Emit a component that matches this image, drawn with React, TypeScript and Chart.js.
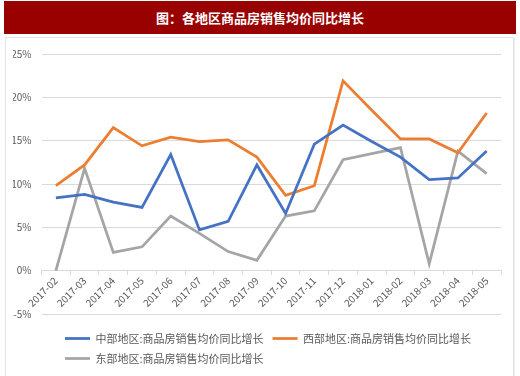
import React, { useEffect, useRef } from "react";
import { Chart, registerables } from "chart.js";

Chart.register(...registerables);

const categories = [
  "2017-02", "2017-03", "2017-04", "2017-05", "2017-06", "2017-07", "2017-08", "2017-09",
  "2017-10", "2017-11", "2017-12", "2018-01", "2018-02", "2018-03", "2018-04", "2018-05",
];
const centralValues = [8.4, 8.8, 7.9, 7.3, 13.4, 4.7, 5.7, 12.2, 6.6, 14.6, 16.8, 14.9, 13.1, 10.5, 10.7, 13.8];
const westernValues = [9.8, 12.2, 16.5, 14.4, 15.4, 14.9, 15.1, 13.1, 8.7, 9.8, 21.9, 18.5, 15.2, 15.2, 13.6, 18.2];
const easternValues = [0, 11.8, 2.1, 2.75, 6.3, 4.3, 2.2, 1.2, 6.3, 6.9, 12.8, 13.5, 14.2, 0.8, 13.8, 11.2];
const seriesNames = [
  "中部地区:商品房销售均价同比增长",
  "西部地区:商品房销售均价同比增长",
  "东部地区:商品房销售均价同比增长",
];
const titleText = "图：各地区商品房销售均价同比增长";

const FONT = "'Noto Sans CJK SC', 'Noto Sans', sans-serif";

export default function App() {
  const ref = useRef<HTMLCanvasElement | null>(null);
  useEffect(() => {
    if (!ref.current) return;
    const shiftLegend = {
      id: "shiftLegend",
      afterLayout(chart: any) {
        const lg = chart.legend;
        if (lg) {
          lg.left += 43;
          lg.top += 10;
          lg.bottom += 10;
        }
      },
    };
    const chart = new Chart(ref.current, {
      type: "line",
      data: {
        labels: categories,
        datasets: [
          { label: seriesNames[0], data: centralValues, borderColor: "#4472C4", backgroundColor: "#4472C4" },
          { label: seriesNames[1], data: westernValues, borderColor: "#ED7D31", backgroundColor: "#ED7D31" },
          { label: seriesNames[2], data: easternValues, borderColor: "#A5A5A5", backgroundColor: "#A5A5A5" },
        ].map((d) => ({ ...d, borderWidth: 2.75, pointRadius: 0, tension: 0, fill: false })),
      },
      options: {
        responsive: false,
        animation: false,
        layout: { padding: { left: 7, right: 12, top: 7, bottom: 12 } },
        plugins: {
          tooltip: { enabled: false },
          legend: {
            position: "bottom",
            align: "start",
            labels: {
              usePointStyle: true,
              pointStyle: "line",
              pointStyleWidth: 25,
              padding: 9,
              color: "#595959",
              font: { size: 11, family: FONT },
            },
          },
        },
        scales: {
          x: {
            position: { y: 0 } as any,
            offset: true,
            afterFit: (scale: any) => {
              scale.paddingLeft = 0;
              scale.paddingRight = 0;
            },
            grid: { drawOnChartArea: false, tickLength: 4, color: "#d9d9d9", offset: true },
            border: { display: true, color: "#d9d9d9" },
            ticks: {
              maxRotation: 45,
              minRotation: 45,
              autoSkip: false,
              color: "#595959",
              padding: 0,
              font: { size: 10, family: FONT },
            },
          },
          y: {
            min: -5,
            max: 25,
            afterFit: (scale: any) => {
              scale.width = 28.5;
            },
            grid: { color: "#d9d9d9", drawTicks: false },
            border: { display: false },
            ticks: {
              stepSize: 5,
              padding: 10,
              color: "#595959",
              font: { size: 10, family: FONT },
              callback: (v: any) => v + "%",
            },
          },
        },
      },
      plugins: [shiftLegend],
    });
    return () => chart.destroy();
  }, []);

  return (
    <div style={{ position: "absolute", left: 0, top: 0, width: 520, height: 376, background: "#fff", fontFamily: FONT }}>
      <div
        style={{
          position: "absolute",
          left: 4,
          top: 1,
          width: 512,
          height: 33,
          background: "#990000",
          color: "#fff",
          fontWeight: "bold",
          fontSize: 13,
          lineHeight: "33px",
          textAlign: "center",
        }}
      >
        {titleText}
      </div>
      <div
        style={{
          position: "absolute",
          left: 5,
          top: 37,
          width: 507,
          height: 338,
          border: "1px solid #e3e3e3",
          boxShadow: "1px 1px 1px #eeeeee",
        }}
      >
        <canvas ref={ref} width={507} height={338} style={{ display: "block" }} />
      </div>
    </div>
  );
}
